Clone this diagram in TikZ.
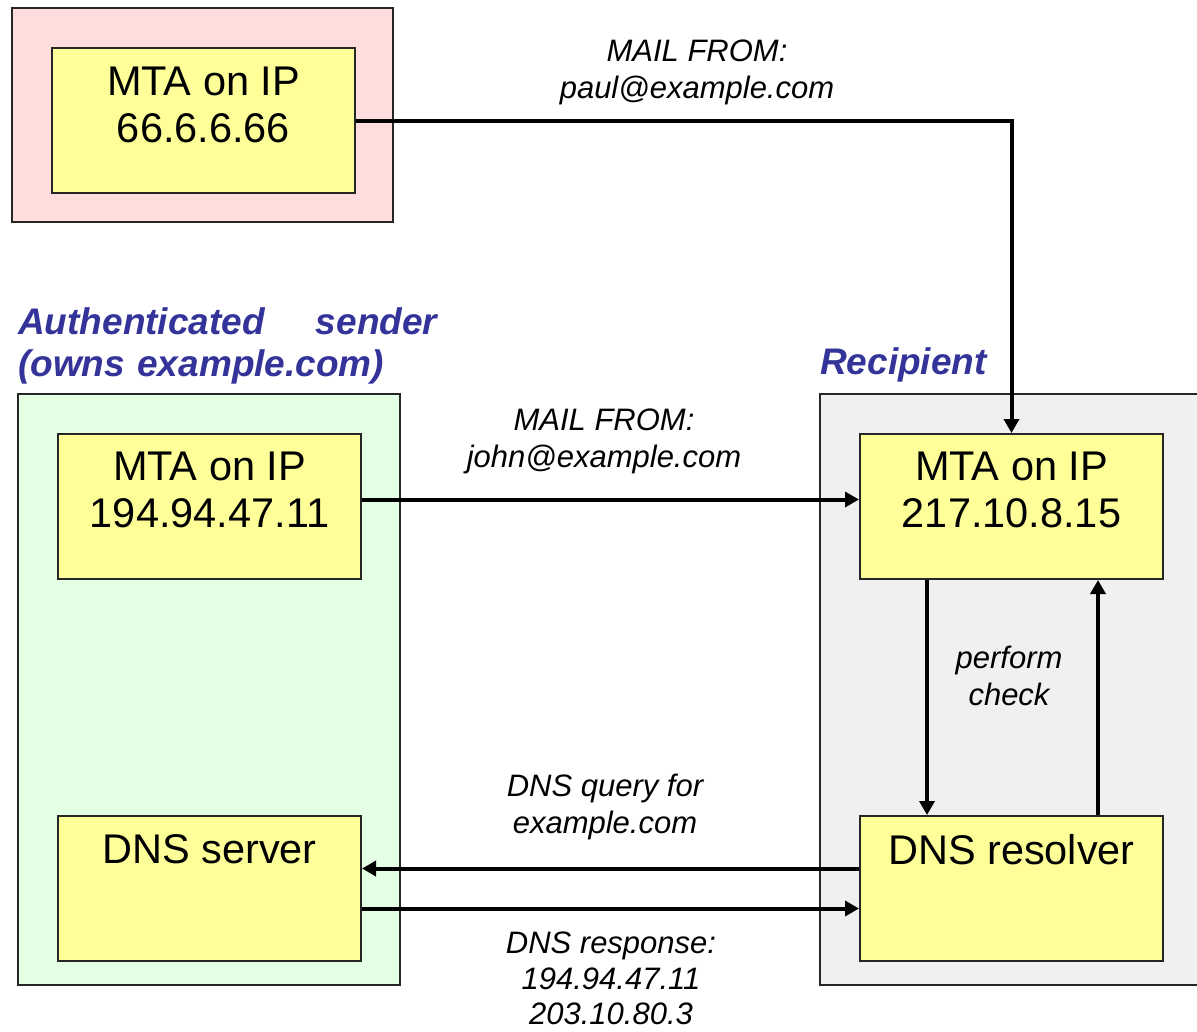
\documentclass[tikz,border=0pt]{standalone}
\usepackage{fontspec}
\setmainfont{Liberation Sans}
\usetikzlibrary{arrows.meta}

\definecolor{zonepink}{HTML}{FFDDDD}
\definecolor{zonegreen}{HTML}{E5FFE5}
\definecolor{zonegray}{HTML}{F0F0F0}
\definecolor{mtayellow}{HTML}{FFFF99}
\definecolor{titleblue}{HTML}{333399}

\tikzset{
  zone/.style={draw=black!85, line width=2pt},
  hostbox/.style={draw=black!85, line width=2pt, fill=mtayellow,
    minimum width=303pt, minimum height=145pt, inner sep=0pt, anchor=north west},
  hosttext/.style={anchor=north, inner sep=0pt, align=center,
    font=\fontsize{41.5}{47}\selectfont},
  flowtext/.style={anchor=north, inner sep=0pt, align=center,
    font=\fontsize{31}{36.5}\selectfont\itshape},
  zonetitle/.style={anchor=north west, inner sep=0pt, align=left,
    text=titleblue, font=\fontsize{37}{42}\selectfont\bfseries\itshape},
  flow/.style={line width=4pt, -{Triangle[length=14pt,width=15pt]}},
}

\begin{document}
\begin{tikzpicture}[x=1pt,y=-1pt]
  \useasboundingbox (0,0) rectangle (1197,1031);

  % zones
  \fill[white] (0,0) rectangle (1197,1031);
  \draw[zone, fill=zonepink]  (12,8)   rectangle (393,222);
  \draw[zone, fill=zonegreen] (18,394) rectangle (400,985);
  \draw[zone, fill=zonegray]  (820,394) rectangle (1210,985);

  % zone titles
  \node[zonetitle, text width=419pt] (authtitle) at (18,307)
    {Authenticated\hfill sender\\(owns example.com)};
  \node[zonetitle] (rcpttitle) at (820,347) {Recipient};

  % hosts
  \node[hostbox] (mtaS) at (51,47)   {};
  \node[hostbox] (mtaA) at (57,433)  {};
  \node[hostbox] (dns)  at (57,815)  {};
  \node[hostbox] (mtaR) at (859,433) {};
  \node[hostbox] (res)  at (859,815) {};

  \node[hosttext] (mtaSt) at ([yshift=-20pt]mtaS.north) {MTA on IP\\66.6.6.66};
  \node[hosttext] (mtaAt) at ([yshift=-19pt]mtaA.north) {MTA on IP\\194.94.47.11};
  \node[hosttext] (dnst)  at ([yshift=-19pt]dns.north)  {DNS server};
  \node[hosttext] (mtaRt) at ([yshift=-19pt]mtaR.north) {MTA on IP\\217.10.8.15};
  \node[hosttext] (rest)  at ([yshift=-19pt]res.north)  {DNS resolver};

  % message flows
  \draw[flow] (mtaS.east) -| (mtaR.north);
  \draw[flow] ([yshift=7pt]mtaA.east) -- ([yshift=7pt]mtaR.west);
  \draw[flow] ([xshift=-84.5pt]mtaR.south) -- ([xshift=-84.5pt]res.north);
  \draw[flow] ([xshift=86.5pt]res.north) -- ([xshift=86.5pt]mtaR.south);
  \draw[flow] ([yshift=20pt]res.west) -- ([yshift=20pt]dns.east);
  \draw[flow] ([yshift=-20pt]dns.east) -- ([yshift=-20pt]res.west);

  % flow labels
  \node[flowtext] (paul)  at (697,40)  {MAIL FROM:\\paul@example.com};
  \node[flowtext] (john)  at (604,409) {MAIL FROM:\\john@example.com};
  \node[flowtext] (check) at (1009,646) {perform\\check};
  \node[flowtext] (query) at (605,774) {DNS query for\\example.com};
  \node[flowtext, font=\fontsize{31}{35.5}\selectfont\itshape] (resp) at (611,932)
    {DNS response:\\194.94.47.11\\203.10.80.3};
\end{tikzpicture}
\end{document}
